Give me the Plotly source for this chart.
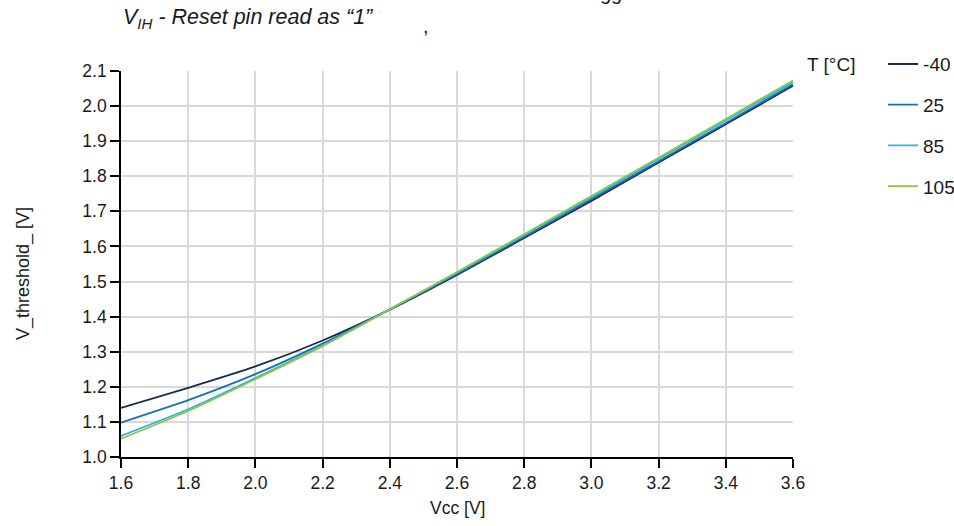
import plotly.graph_objects as go

vcc = [1.6, 1.8, 2.0, 2.2, 2.4, 2.6, 2.8, 3.0, 3.2, 3.4, 3.6]
y_ticks = [1.0, 1.1, 1.2, 1.3, 1.4, 1.5, 1.6, 1.7, 1.8, 1.9, 2.0, 2.1]
temps = ["-40", "25", "85", "105"]
v_m40 = [1.140, 1.197, 1.258, 1.332, 1.420, 1.519, 1.624, 1.730, 1.839, 1.948, 2.058]
v_25 = [1.098, 1.162, 1.236, 1.323, 1.421, 1.522, 1.628, 1.735, 1.843, 1.952, 2.062]
v_85 = [1.060, 1.136, 1.225, 1.318, 1.421, 1.525, 1.632, 1.740, 1.849, 1.959, 2.068]
v_105 = [1.052, 1.131, 1.222, 1.316, 1.421, 1.527, 1.635, 1.744, 1.853, 1.963, 2.073]
series = [v_m40, v_25, v_85, v_105]
colors = ["#172c4d", "#1671b6", "#29b2e8", "#8cc63e"]

FONT = "Liberation Sans, Arial, sans-serif"
TXT = "#1a1a1a"

fig = go.Figure()
for name, vals, col in zip(temps, series, colors):
    fig.add_trace(go.Scatter(x=vcc, y=vals, mode="lines", name=name,
                             line=dict(color=col, width=1.8, shape="spline", smoothing=0.6),
                             legendgroup=name))

fig.update_layout(
    width=954, height=526,
    margin=dict(l=121, r=161, t=71, b=69, autoexpand=False),
    paper_bgcolor="white", plot_bgcolor="white",
    font=dict(family=FONT, size=17, color=TXT),
    showlegend=True,
    legend=dict(x=1.134, y=1.067, xanchor="left", yanchor="top",
                font=dict(size=19, color=TXT), tracegroupgap=13,
                bgcolor="rgba(0,0,0,0)"),
    xaxis=dict(range=[1.6, 3.6], tickvals=vcc, ticktext=[f"{v:.1f}" for v in vcc],
               showgrid=True, gridcolor="#d9d9d9", gridwidth=1.6,
               showline=True, linecolor="black", linewidth=1.6,
               ticks="outside", ticklen=9, tickcolor="black", tickwidth=1.6,
               zeroline=False, tickfont=dict(size=17.5)),
    yaxis=dict(range=[1.0, 2.1], tickvals=y_ticks, ticktext=[f"{v:.1f}" for v in y_ticks],
               showgrid=True, gridcolor="#d9d9d9", gridwidth=1.6,
               showline=True, linecolor="black", linewidth=1.6,
               ticks="outside", ticklen=9, tickcolor="black", tickwidth=1.6,
               zeroline=False, tickfont=dict(size=17.5)),
)

fig.add_annotation(text="<i>V<sub>IH</sub> - Reset pin read as “1”</i>",
                   xref="paper", yref="paper", x=0.0, y=1.135,
                   xanchor="left", yanchor="middle", showarrow=False,
                   font=dict(size=21.5, color=TXT))
fig.add_annotation(text=",", xref="paper", yref="paper", x=0.454, y=1.117,
                   xanchor="center", yanchor="middle", showarrow=False,
                   font=dict(size=20, color=TXT))
fig.add_annotation(text="gg", xref="paper", yref="paper", x=0.729, y=1.202,
                   xanchor="center", yanchor="middle", showarrow=False,
                   font=dict(size=20, color=TXT))
fig.add_annotation(text="T [°C]", xref="paper", yref="paper", x=1.018, y=1.018,
                   xanchor="left", yanchor="middle", showarrow=False,
                   font=dict(size=19, color=TXT))
fig.add_annotation(text="V_threshold_ [V]", xref="paper", yref="paper", x=-0.1458, y=0.474,
                   xanchor="center", yanchor="middle", textangle=-90, showarrow=False,
                   font=dict(size=18, color=TXT))
fig.add_annotation(text="Vcc [V]", xref="paper", yref="paper", x=0.5, y=-0.132,
                   xanchor="center", yanchor="middle", showarrow=False,
                   font=dict(size=17.5, color=TXT))

fig.write_html("out.html", config={"displayModeBar": False},
               post_script="document.body.style.margin='0';")
